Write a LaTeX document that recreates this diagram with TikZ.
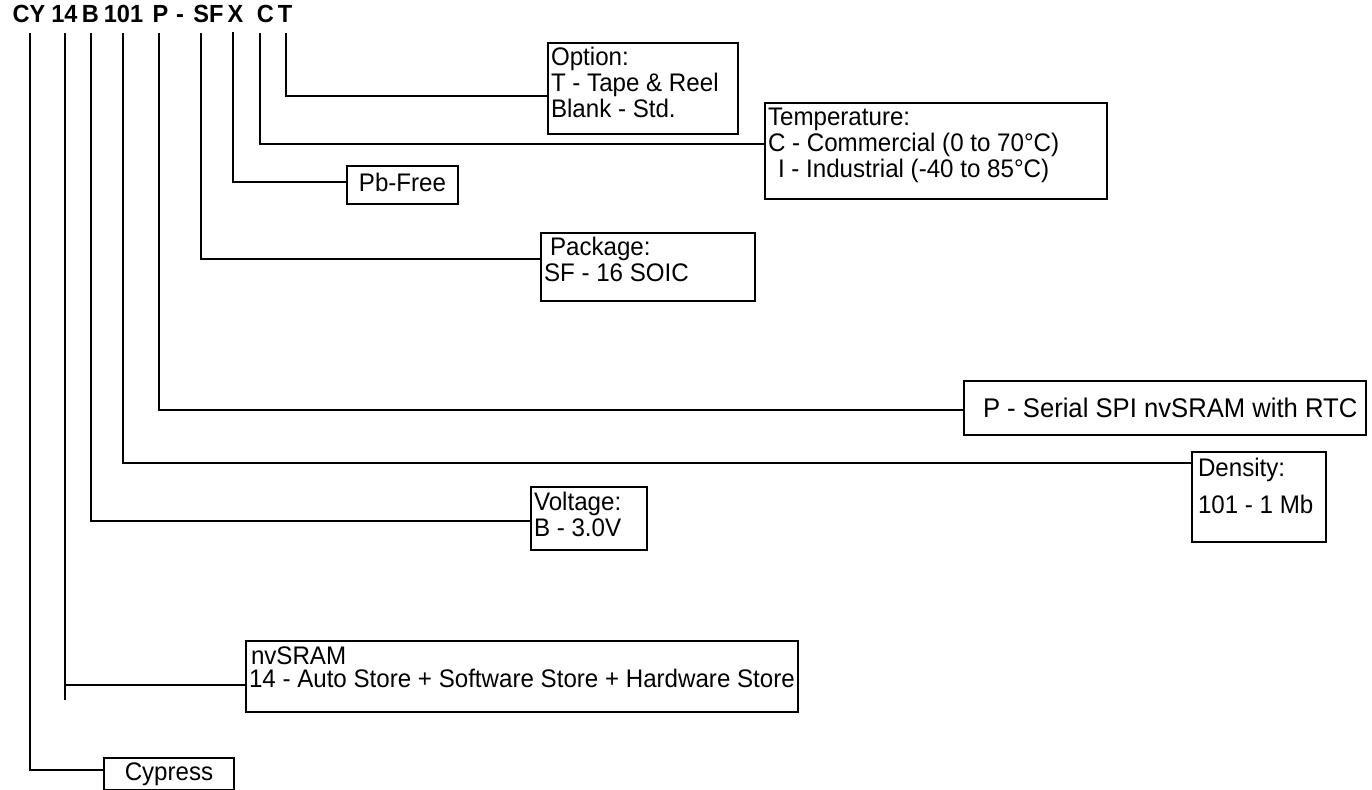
\documentclass[tikz,border=0pt]{standalone}
\usepackage{fontspec}
\setmainfont{Liberation Sans}
\newfontfamily\boxfont[FakeStretch=0.95]{Liberation Sans}
\newcommand\bxt[5]{\parbox[c][#1][t]{#2}{#5\rule{0pt}{#3}#4}}
\begin{document}
\begin{tikzpicture}[x=0.5pt,y=-0.5pt,
  code/.style={font=\boxfont\fontsize{12.4}{15}\selectfont\bfseries, anchor=base, inner sep=0pt},
  box/.style={draw, line width=1pt, anchor=north west, inner xsep=1.5pt, inner ysep=0pt,
              font=\boxfont\fontsize{12.7}{11.5}\selectfont},
  wire/.style={line width=1pt}]
\useasboundingbox (0,0) rectangle (1372,790);
% part number
\node[code] (cy)   at (29,23)    {CY};
\node[code] (n14)  at (64.5,23)  {14};
\node[code] (nB)   at (90.5,23)  {B};
\node[code] (n101) at (123.5,23) {101};
\node[code] (nP)   at (160.5,23) {P};
\node[code] (ndash) at (180,23)  {-};
\node[code] (nSF)  at (208.5,23) {SF};
\node[code] (nX)   at (235.5,23) {X};
\node[code] (nC)   at (265.5,23) {C};
\node[code] (nT)   at (285,23)   {T};
% tick tops
\coordinate (kCY) at (30,33);
\coordinate (k14) at (65,33);
\coordinate (kB) at (91,33);
\coordinate (k101) at (123,33);
\coordinate (kP) at (159,33);
\coordinate (kSF) at (201,33);
\coordinate (kX) at (233,32);
\coordinate (kC) at (260,33);
\coordinate (kT) at (286,33);
% boxes
\node[box] (opt) at (547,42) {\bxt{45.5pt}{92pt}{11.5pt}{Option:\\T - Tape \& Reel\\Blank - Std.}{}};
\node[box] (temp) at (764,102) {\bxt{48pt}{168pt}{11.5pt}{Temperature:\\C - Commercial (0 to 70°C)\\\hspace*{5pt}I - Industrial (-40 to 85°C)}{}};
\node[box] (pb) at (346,165) {\bxt{19pt}{52.5pt}{13pt}{Pb-Free}{\centering}};
\node[box] (pkg) at (540,232) {\bxt{34pt}{104pt}{11.5pt}{\hspace*{3pt}Package:\\SF - 16 SOIC}{}};
\node[box] (ser) at (963,380) {\bxt{27pt}{198pt}{18.5pt}{\fontsize{13.5}{14}\selectfont P - Serial SPI nvSRAM with RTC}{\hspace*{8pt}}};
\node[box] (den) at (1191,451) {\bxt{45pt}{64pt}{12.5pt}{Density:\\\hspace*{1.5pt}101 - 1 Mb}{\setlength{\baselineskip}{18.5pt}\hspace*{1.5pt}}};
\node[box] (volt) at (530,486) {\bxt{31.5pt}{55pt}{12pt}{Voltage:\\B - 3.0V}{}};
\node[box] (nv) at (245,640) {\bxt{35.5pt}{273pt}{12pt}{nvSRAM\\14 - Auto Store + Software Store + Hardware Store}{\hspace*{1pt}}};
\node[box] (cyp) at (103,757) {\bxt{16pt}{62pt}{11.5pt}{Cypress}{\centering}};
% connectors
\draw[wire] (kT) |- (opt.west |- 0,96);
\draw[wire] (kC) |- (temp.west |- 0,144);
\draw[wire] (kX) |- (pb.west |- 0,182);
\draw[wire] (kSF) |- (pkg.west |- 0,259);
\draw[wire] (kP) |- (ser.west |- 0,410);
\draw[wire] (k101) |- (den.west |- 0,463);
\draw[wire] (kB) |- (volt.west |- 0,521);
\coordinate (e14) at (65,700);
\draw[wire] (k14) -- (e14);
\draw[wire] (k14 |- 0,685) -- (nv.west |- 0,685);
\draw[wire] (kCY) |- (cyp.west |- 0,770);
\end{tikzpicture}
\end{document}
